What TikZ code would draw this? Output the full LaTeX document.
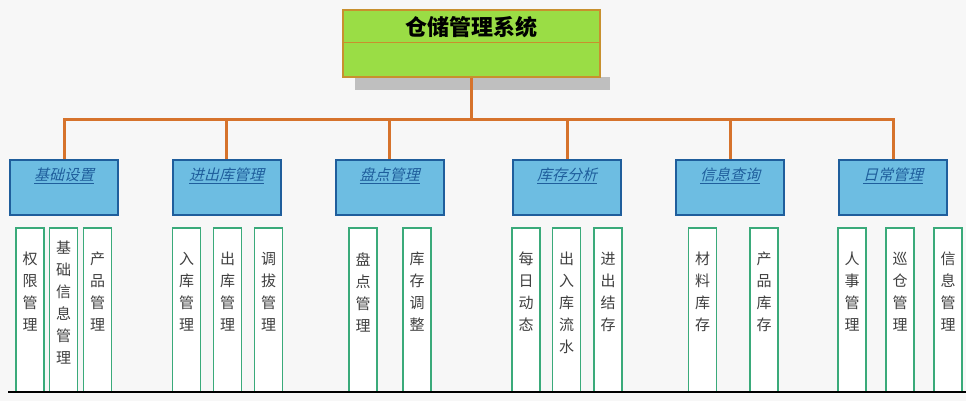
\documentclass[tikz,border=0pt]{standalone}
\usepackage{fontspec}
\newfontfamily\cjk{Noto Sans CJK SC}
\newfontfamily\cjkit[FakeSlant=0.25]{Noto Sans CJK SC}
\usetikzlibrary{positioning}
\definecolor{linkorange}{HTML}{D6732C}
\definecolor{topgreen}{HTML}{9ADD45}
\definecolor{topedge}{HTML}{C8902E}
\definecolor{modblue}{HTML}{6DBDE2}
\definecolor{modedge}{HTML}{1F5E9C}
\definecolor{leafedge}{HTML}{3AAA7A}
\tikzset{
  link/.style={linkorange, line width=3pt},
  modbox/.style={draw=modedge, line width=2pt, fill=modblue, minimum width=108pt, minimum height=55pt, inner sep=0pt},
  modlabel/.style={text=modedge, font=\cjkit\fontsize{15}{15}\selectfont},
  leafbox/.style={draw=leafedge, line width=1.5pt, fill=white, minimum width=28pt, minimum height=164pt, inner sep=0pt},
  leaflabel/.style={align=center, font=\cjk\fontsize{15}{22}\selectfont, text=black!75}
}
\newcommand{\leaf}[3]{%
  \node[leafbox] (#1) at (#2,310) {};
  \node[leaflabel] at (#2,292) {#3};
}
\begin{document}
\begin{tikzpicture}[x=1pt,y=-1pt]
  \useasboundingbox[fill=white!97!black] (0,0) rectangle (966,401);

  % top box with shadow
  \fill[black!25] (355,77) rectangle (610,90);
  \node[draw=topedge, line width=2pt, fill=topgreen, minimum width=257pt, minimum height=67pt, inner sep=0pt] (root) at (471.5,43.5) {};
  \draw[topedge, line width=1pt] (root.west |- 0,43) -- (root.east |- 0,43);
  \node[font=\cjk\bfseries\fontsize{22}{22}\selectfont] at (471.5,27) {仓储管理系统};

  % modules
  \foreach \name/\x/\txt in {m1/64/基础设置, m2/226.5/进出库管理, m3/389.5/盘点管理, m4/567/库存分析, m5/730/信息查询, m6/893/日常管理}{
    \node[modbox] (\name) at (\x,187.5) {};
    \node[modlabel] at (\x,176) {\underline{\txt}};
  }

  \coordinate (bus) at (471.5,120);
  \draw[link] (root.south) -- (bus);
  \draw[link] (m1.north) |- (bus) -| (m6.north);
  \foreach \name in {m2,m3,m4,m5}
    \draw[link] (\name.north) -- (\name.north |- bus);

  % leaves
  \leaf{l11}{30}{权\\限\\管\\理}
  \node[leafbox] (l12) at (63.5,310) {};
  \node[leaflabel] at (63.5,303) {基\\础\\信\\息\\管\\理};
  \leaf{l13}{97.5}{产\\品\\管\\理}
  \leaf{l21}{186.5}{入\\库\\管\\理}
  \leaf{l22}{227.5}{出\\库\\管\\理}
  \leaf{l23}{268.5}{调\\拔\\管\\理}
  \leaf{l31}{363}{盘\\点\\管\\理}
  \leaf{l32}{417}{库\\存\\调\\整}
  \leaf{l41}{526}{每\\日\\动\\态}
  \node[leafbox] (l42) at (566.5,310) {};
  \node[leaflabel] at (566.5,303) {出\\入\\库\\流\\水};
  \leaf{l43}{608}{进\\出\\结\\存}
  \leaf{l51}{702.5}{材\\料\\库\\存}
  \leaf{l52}{764}{产\\品\\库\\存}
  \leaf{l61}{852}{人\\事\\管\\理}
  \leaf{l62}{900}{巡\\仓\\管\\理}
  \leaf{l63}{948}{信\\息\\管\\理}

  \draw[black, line width=1.5pt] (8,392) -- (966,392);
\end{tikzpicture}
\end{document}
